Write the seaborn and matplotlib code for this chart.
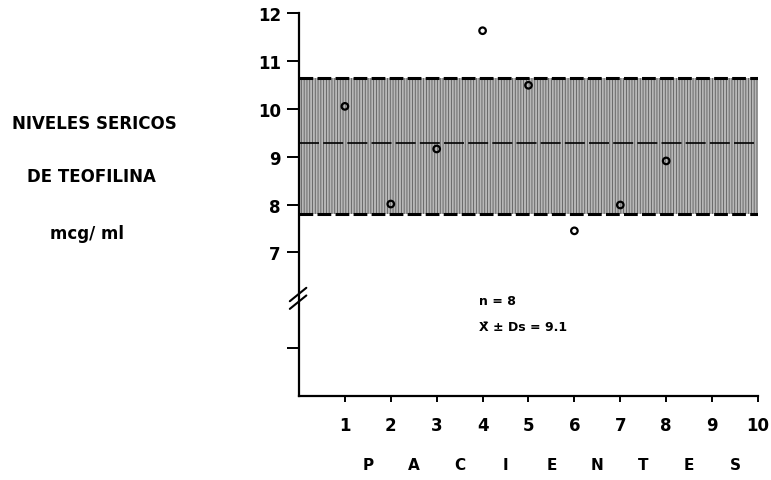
import matplotlib
matplotlib.use("Agg")
import matplotlib.pyplot as plt
import matplotlib.transforms as mtransforms
import pandas as pd
import seaborn as sns

sns.set_style("white")
plt.rcParams["font.family"] = ["DejaVu Sans"]
plt.rcParams["hatch.linewidth"] = 0.6
plt.rcParams["text.color"] = "black"
plt.rcParams["xtick.color"] = "black"
plt.rcParams["ytick.color"] = "black"

# values
pacientes = [1, 2, 3, 4, 5, 6, 7, 8]
niveles = [10.05, 8.01, 9.16, 11.63, 10.49, 7.45, 7.99, 8.91]
media = 9.28
banda_inf = 7.80
banda_sup = 10.65
x_ticks = [1, 2, 3, 4, 5, 6, 7, 8, 9, 10]
y_ticks = [5, 7, 8, 9, 10, 11, 12]
y_labels = ["", "7", "8", "9", "10", "11", "12"]
x_title = list("PACIENTES")
y_title = ["NIVELES SERICOS", "DE TEOFILINA", "mcg/ ml"]

data = pd.DataFrame({"paciente": pacientes, "nivel": niveles})

fig = plt.figure(figsize=(7.71, 4.81), dpi=100)
ax = fig.add_axes([0.3878, 0.1746, 0.5953, 0.7963])

# shaded band (mean +/- sd)
ax.fill_between([0, 10], banda_inf, banda_sup, facecolor="#b8b8b8",
                edgecolor="#5c5c5c", hatch="||||||", linewidth=0, zorder=1)
ax.axhline(banda_sup, color="black", lw=2.2, dashes=(4.5, 1.4), zorder=2)
ax.axhline(banda_inf, color="black", lw=2.2, dashes=(4.5, 1.4), zorder=2)
ax.axhline(media, color="black", lw=1.2, dashes=(12, 2.5), zorder=2)

sns.scatterplot(data=data, x="paciente", y="nivel", ax=ax, marker="o",
                s=22, facecolor="none", edgecolor="black", linewidth=1.6,
                zorder=3)

ax.set_xlim(0, 10)
ax.set_ylim(4, 12)
ax.set_xticks(x_ticks)
ax.set_xticklabels([str(t) for t in x_ticks])
ax.set_yticks(y_ticks)
ax.set_yticklabels(y_labels)
ax.set_xlabel(None)
ax.set_ylabel(None)

for side in ["top", "right"]:
    ax.spines[side].set_visible(False)
for side in ["left", "bottom"]:
    ax.spines[side].set_linewidth(1.6)
    ax.spines[side].set_color("black")

ax.tick_params(axis="y", direction="out", length=9, width=1.4, pad=4,
               labelsize=12, left=True)
ax.tick_params(axis="x", direction="out", length=4.5, width=1.4, pad=10,
               labelsize=12, bottom=True)
for lab in ax.get_xticklabels() + ax.get_yticklabels():
    lab.set_fontweight("bold")

# axis break mark
for dy in (0.0, 0.16):
    ax.plot([-0.2, 0.16], [5.82 + dy, 6.1 + dy], color="black", lw=1.5,
            clip_on=False, zorder=4)

# annotation
ax.text(3.93, 6.0, "n = 8", fontsize=9, fontweight="bold", va="center")
ax.text(3.93, 5.46, "X\u0304 \u00b1 Ds = 9.1", fontsize=9,
        fontweight="bold", va="center")

# x title, spaced letters between the ticks
trans = mtransforms.blended_transform_factory(ax.transData, ax.transAxes)
for i, letra in enumerate(x_title):
    ax.text(1.5 + i, -0.18, letra, transform=trans, ha="center",
            va="center", fontsize=11, fontweight="bold")

# y title, stacked on the left
for txt, xx, yy in zip(y_title, [0.123, 0.119, 0.113], [0.743, 0.632, 0.5135]):
    fig.text(xx, yy, txt, ha="center", va="center", fontsize=12,
             fontweight="bold")

fig.savefig("out.png", dpi=100)
